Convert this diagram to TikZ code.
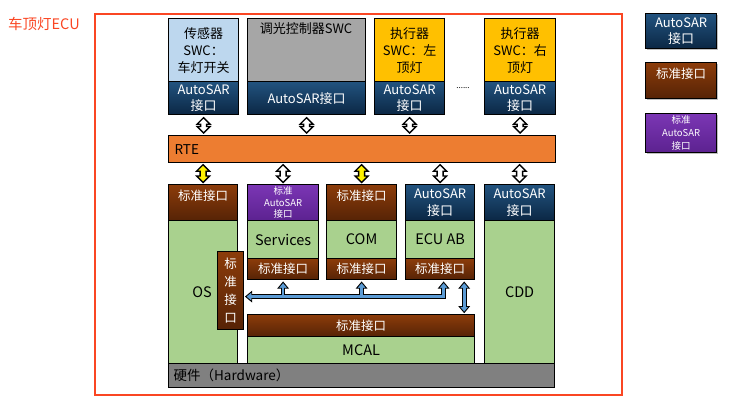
\documentclass[tikz,border=0pt]{standalone}
\usepackage{fontspec}
\setmainfont{Noto Sans CJK SC}
\usetikzlibrary{calc}
\definecolor{redf}{RGB}{250,70,35}
\definecolor{ltblue}{HTML}{BDD7EE}
\definecolor{swcgray}{HTML}{A6A6A6}
\definecolor{swcyel}{HTML}{FFC000}
\definecolor{rteor}{HTML}{ED7D31}
\definecolor{grn}{HTML}{A9D18E}
\definecolor{hwgray}{HTML}{808080}
\definecolor{asrtop}{HTML}{22537F}
\definecolor{asrbot}{HTML}{0B2744}
\definecolor{stdtop}{HTML}{8C3C0A}
\definecolor{stdbot}{HTML}{562306}
\definecolor{purtop}{HTML}{7B36B4}
\definecolor{purbot}{HTML}{5C2290}
\definecolor{conblue}{HTML}{5B9BD5}
\definecolor{shad}{HTML}{BFBFBF}
\newcommand{\fz}[2]{\fontsize{#1}{#2}\selectfont}
\newcommand{\blk}[3]{%
\draw[blockarrow, fill=#1] let \p1=#2, \p2=#3 in
 (\x1,\y1) -- (\x1+6.5pt,\y1-6.5pt) -- (\x1+3pt,\y1-6.5pt) -- (\x1+3pt,\y2+6.5pt) -- (\x1+6.5pt,\y2+6.5pt)
 -- (\x1,\y2) -- (\x1-6.5pt,\y2+6.5pt) -- (\x1-3pt,\y2+6.5pt) -- (\x1-3pt,\y1-6.5pt) -- (\x1-6.5pt,\y1-6.5pt) -- cycle;}
\newcommand{\headL}[1]{\draw[headst] #1 -- ++(6,-5) -- ++(0,10) -- cycle;}
\newcommand{\headU}[1]{\draw[headst] #1 -- ++(5,6) -- ++(-10,0) -- cycle;}
\newcommand{\headD}[1]{\draw[headst] #1 -- ++(5,-6) -- ++(-10,0) -- cycle;}
\begin{document}
\begin{tikzpicture}[x=1pt,y=-1pt,
  base/.style={draw=black, line width=1.2pt, inner sep=1pt, anchor=north west, align=center, font=\fz{12.5}{16.5}},
  asr/.style={base, top color=asrtop, bottom color=asrbot, text=white, font=\fz{13}{16.5}},
  std/.style={base, top color=stdtop, bottom color=stdbot, text=white},
  stdhead/.style={std, text height=9pt, text depth=14pt},
  pur/.style={base, top color=purtop, bottom color=purbot, text=white, font=\fz{9.5}{11.5}},
  grnbox/.style={base, fill=grn, font=\fz{14.5}{17}},
  swc/.style={base, font=\fz{13}{17}},
  blockarrow/.style={draw=black, line width=1.3pt, line join=miter},
  headst/.style={draw=black, line width=0.9pt, fill=conblue, line join=miter},
  conblk/.style={draw=black, line width=4.6pt},
  conin/.style={draw=conblue, line width=2.6pt},
  lbl/.style={inner sep=0, font=\fz{14.5}{17}}
]
\useasboundingbox (0,0) rectangle (736,412);
% outer frame and title
\draw[redf, line width=1.8pt] (95,14) rectangle (622,395);
\node[anchor=west, inner sep=0, text=redf, font=\fz{14.5}{16}] (title) at (8,24) {车顶灯ECU};

% top SWCs
\node[swc, fill=ltblue, minimum width=70pt, minimum height=63pt] (s1) at (168,18) {传感器\\SWC：\\车灯开关};
\node[asr, minimum width=70pt, minimum height=33pt] (s1a) at (168,81) {AutoSAR\\接口};
\node[swc, fill=swcgray, minimum width=118pt, minimum height=63pt] (s2) at (247,18) {};
\node[inner sep=0, font=\fz{13}{16}] (s2t) at (306,29) {调光控制器SWC};
\node[asr, minimum width=118pt, minimum height=33pt] (s2a) at (247,81) {AutoSAR接口};
\node[swc, fill=swcyel, minimum width=70pt, minimum height=63pt] (s3) at (374,18) {执行器\\SWC：左\\顶灯};
\node[asr, minimum width=70pt, minimum height=33pt] (s3a) at (374,81) {AutoSAR\\接口};
\node[inner sep=0, font=\fz{8}{10}] (dots) at (463,88) {......};
\node[swc, fill=swcyel, minimum width=71pt, minimum height=63pt] (s4) at (484,18) {执行器\\SWC：右\\顶灯};
\node[asr, minimum width=71pt, minimum height=33pt] (s4a) at (484,81) {AutoSAR\\接口};

% RTE
\node[base, fill=rteor, minimum height=27pt, inner xsep=6pt, text width=375pt, align=left, font=\fz{13.5}{16}] (rte) at (168,135) {RTE};

% lower columns
\node[grnbox, minimum width=69pt, minimum height=143pt] (os) at (168,220) {};
\node[lbl] (ostxt) at (202,292) {OS};
\node[stdhead, minimum width=69pt, minimum height=36pt] (osh) at (168,184) {标准接口};

\node[pur, minimum width=71pt, minimum height=36pt] (svch) at (247,184) {标准\\AutoSAR\\接口};
\node[grnbox, minimum width=71pt, minimum height=38pt] (svc) at (247,220) {Services};
\node[std, minimum width=71pt, minimum height=21pt] (svcstd) at (247,258) {标准接口};

\node[stdhead, minimum width=70pt, minimum height=36pt] (comh) at (326,184) {标准接口};
\node[grnbox, minimum width=70pt, minimum height=38pt] (com) at (326,220) {COM};
\node[std, minimum width=70pt, minimum height=21pt] (comstd) at (326,258) {标准接口};

\node[asr, minimum width=69pt, minimum height=36pt] (ecuh) at (405,184) {AutoSAR\\接口};
\node[grnbox, minimum width=69pt, minimum height=38pt] (ecu) at (405,220) {ECU AB};
\node[std, minimum width=69pt, minimum height=21pt] (ecustd) at (405,258) {标准接口};

\node[asr, minimum width=70pt, minimum height=36pt] (cddh) at (484,184) {AutoSAR\\接口};
\node[grnbox, minimum width=70pt, minimum height=143pt] (cdd) at (484,220) {CDD};

\node[std, minimum width=227pt, minimum height=22pt] (mcalstd) at (247,314) {标准接口};
\node[grnbox, minimum width=227pt, minimum height=27pt] (mcal) at (247,336) {MCAL};

\node[std, minimum width=26pt, minimum height=78pt, font=\fz{12.5}{18}] (osv) at (217,251) {标\\准\\接\\口};

\node[base, fill=hwgray, minimum height=24pt, inner xsep=5pt, text width=376pt, align=left, font=\fz{13.5}{16}] (hw) at (168,363) {硬件（Hardware）};

% legend
\fill[shad] (647,15) rectangle (718,50);
\node[asr, minimum width=71pt, minimum height=35pt] (l1) at (645,13) {AutoSAR\\接口};
\fill[shad] (647,64) rectangle (718,100);
\node[stdhead, minimum width=71pt, minimum height=36pt] (l2) at (645,62) {标准接口};
\fill[shad] (647,115) rectangle (718,154);
\node[pur, minimum width=71pt, minimum height=39pt, font=\fz{9.5}{13}] (l3) at (645,113) {标准\\AutoSAR\\接口};

% SWC <-> RTE arrows
\blk{white}{($(s1a.south)+(0,2.5)$)}{($(rte.north -| s1a.south)+(0,-2)$)}
\blk{white}{($(s2a.south)+(0,2.5)$)}{($(rte.north -| s2a.south)+(0,-2)$)}
\blk{white}{($(s3a.south)+(0,2.5)$)}{($(rte.north -| s3a.south)+(0,-2)$)}
\blk{white}{($(s4a.south)+(0,2.5)$)}{($(rte.north -| s4a.south)+(0,-2)$)}
% RTE <-> lower
\blk{yellow}{($(rte.south -| osh.north)+(0,1.5)$)}{($(osh.north)+(0,-1.5)$)}
\blk{white}{($(rte.south -| svch.north)+(0,1.5)$)}{($(svch.north)+(0,-1.5)$)}
\blk{yellow}{($(rte.south -| comh.north)+(0,1.5)$)}{($(comh.north)+(0,-1.5)$)}
\blk{white}{($(rte.south -| ecuh.north)+(0,1.5)$)}{($(ecuh.north)+(0,-1.5)$)}
\blk{white}{($(rte.south -| cddh.north)+(0,1.5)$)}{($(cddh.north)+(0,-1.5)$)}

% blue connectors
\coordinate (tipL) at ($(osv.east)+(1.5,6)$);
\coordinate (tipS) at ($(svcstd.south)+(0,2)$);
\coordinate (tipC) at ($(comstd.south)+(0,2)$);
\coordinate (tipE) at ($(ecustd.south)+(3.5,2)$);
\coordinate (tipA) at ($(ecustd.south east)+(-11,2)$);
\coordinate (tipB) at ($(mcalstd.north -| tipA)+(0,-1.5)$);
\draw[conblk] ($(tipL)+(6,0)$) -- (tipE |- tipL) -- ($(tipE)+(0,6)$);
\draw[conblk] (tipS |- tipL) -- ($(tipS)+(0,6)$);
\draw[conblk] (tipC |- tipL) -- ($(tipC)+(0,6)$);
\draw[conblk] ($(tipA)+(0,6)$) -- ($(tipB)+(0,-6)$);
\headL{(tipL)}
\headU{(tipS)}
\headU{(tipC)}
\headU{(tipE)}
\headU{(tipA)}
\headD{(tipB)}
\draw[conin] ($(tipL)+(5,0)$) -- (tipE |- tipL) -- ($(tipE)+(0,5)$);
\draw[conin] (tipS |- tipL) -- ($(tipS)+(0,5)$);
\draw[conin] (tipC |- tipL) -- ($(tipC)+(0,5)$);
\draw[conin] ($(tipA)+(0,5)$) -- ($(tipB)+(0,-5)$);
\end{tikzpicture}
\end{document}
